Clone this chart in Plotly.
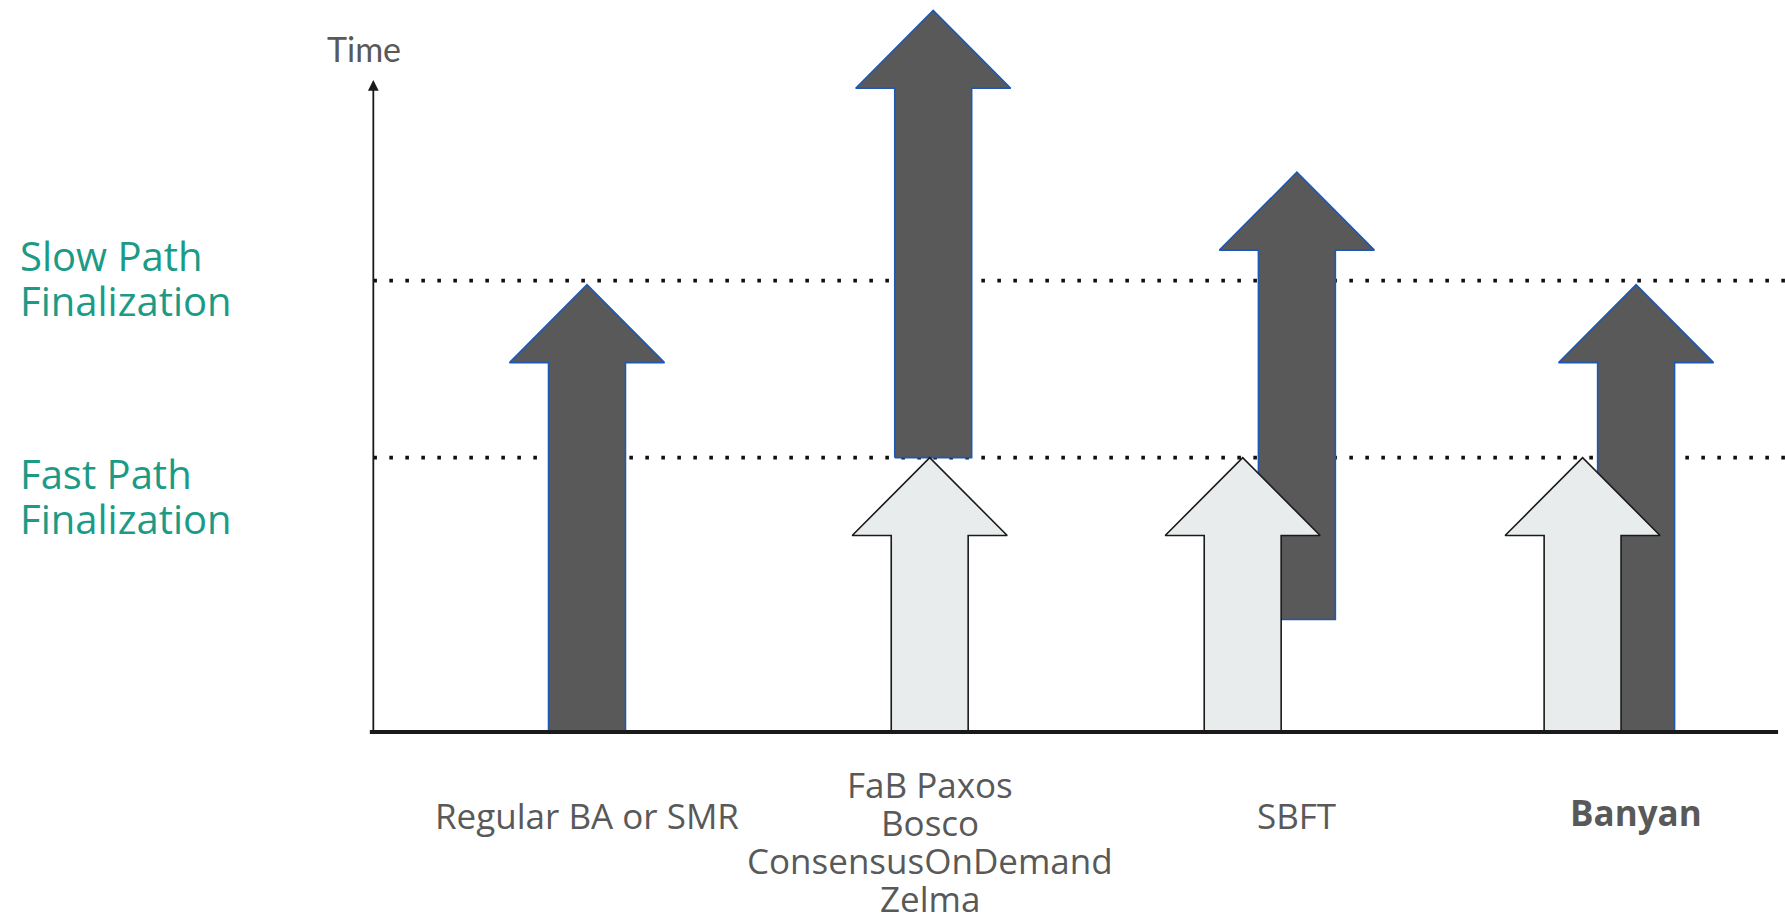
import plotly.graph_objects as go

# ---------------- data ----------------
categories = ["Regular BA or SMR", "FaB Paxos|Bosco|ConsensusOnDemand|Zelma", "SBFT", "Banyan"]
label_x = [0.0, 0.98, 2.03, 3.0]
label_y = [-0.306, -0.19, -0.306, -0.292]
label_bold = [False, False, False, True]

# slow path (dark) arrows
slow_x = [0.0, 0.99, 2.03, 3.0]
slow_start = [0.0, 1.0, 0.41, 0.0]
slow_end = [1.63, 2.63, 2.04, 1.63]

# fast path (light) arrows (none for regular BA)
fast_x = [None, 0.98, 1.875, 2.847]
fast_start = [None, 0.0, 0.0, 0.0]
fast_end = [None, 1.0, 1.0, 1.0]

fast_level = 1.0
slow_level = 1.645
level_labels = ["Slow Path|Finalization", "Fast Path|Finalization"]
level_label_y = [1.655, 0.86]

# ---------------- style ----------------
W, H = 1785, 916
X0_PX, X_UNIT = 587.0, 349.7
Y0_PX, Y_UNIT = 732.0, 274.4
xr = [(0 - X0_PX) / X_UNIT, (W - X0_PX) / X_UNIT]
yr = [-(H - Y0_PX) / Y_UNIT, Y0_PX / Y_UNIT]

SHAFT = 0.110
HEADW = 0.2216
HEADH = 0.284
DARK = "#595959"
DARK_EDGE = "#1f58b0"
LIGHT = "#e8ecec"
LIGHT_EDGE = "#1a1a1a"
TEAL = "#1b9b86"
GREY = "#595959"
FONT = "Open Sans"

axis_x = -0.611

fig = go.Figure()

# dotted reference lines
for lvl in [slow_level, fast_level]:
    fig.add_trace(go.Scatter(x=[axis_x, xr[1]], y=[lvl, lvl], mode="lines",
                             line=dict(color="#111111", width=3.6, dash="3.6px,12.4px"),
                             hoverinfo="skip", showlegend=False))


def arrow(xc, y0, y1):
    xs = [xc - SHAFT, xc - SHAFT, xc - HEADW, xc, xc + HEADW, xc + SHAFT, xc + SHAFT, xc - SHAFT]
    ys = [y0, y1 - HEADH, y1 - HEADH, y1, y1 - HEADH, y1 - HEADH, y0, y0]
    return xs, ys


for xc, a, b in zip(slow_x, slow_start, slow_end):
    xs, ys = arrow(xc, a, b)
    fig.add_trace(go.Scatter(x=xs, y=ys, mode="lines", fill="toself", fillcolor=DARK,
                             line=dict(color=DARK_EDGE, width=1.6), hoverinfo="skip",
                             showlegend=False))

for xc, a, b in zip(fast_x, fast_start, fast_end):
    if xc is None:
        continue
    xs, ys = arrow(xc, a, b)
    fig.add_trace(go.Scatter(x=xs, y=ys, mode="lines", fill="toself", fillcolor=LIGHT,
                             line=dict(color=LIGHT_EDGE, width=1.6), hoverinfo="skip",
                             showlegend=False))

# x axis line (thick)
fig.add_trace(go.Scatter(x=[-0.621, 3.406], y=[0, 0], mode="lines",
                         line=dict(color="#1a1a1a", width=4), hoverinfo="skip",
                         showlegend=False))

annotations = []
# y axis arrow
annotations.append(dict(x=axis_x, y=2.376, ax=axis_x, ay=0.0, xref="x", yref="y",
                        axref="x", ayref="y", text="", showarrow=True, arrowhead=2,
                        arrowsize=1.2, arrowwidth=1.8, arrowcolor="#1a1a1a"))
annotations.append(dict(x=-0.637, y=2.492, xref="x", yref="y", text="Time",
                        showarrow=False, font=dict(family="Lato", size=34, color=GREY),
                        xanchor="center", yanchor="middle"))

# level labels
LINE_H = 0.166
for txt, yc in zip(level_labels, level_label_y):
    lines = txt.split("|")
    n = len(lines)
    for i, ln in enumerate(lines):
        yy = yc + (n - 1) / 2 * LINE_H - i * LINE_H
        annotations.append(dict(x=-1.627, y=yy, xref="x", yref="y", text=ln,
                                showarrow=False, xanchor="left", yanchor="middle",
                                font=dict(family=FONT, size=40, color=TEAL)))

# category labels
CAT_LH = 0.1385
for cat, lx, ly, bold in zip(categories, label_x, label_y, label_bold):
    for i, ln in enumerate(cat.split("|")):
        t = f"<b>{ln}</b>" if bold else ln
        annotations.append(dict(x=lx, y=ly - i * CAT_LH, xref="x", yref="y", text=t,
                                showarrow=False, xanchor="center", yanchor="middle",
                                font=dict(family=FONT, size=35, color=GREY)))

fig.update_layout(
    width=W, height=H, margin=dict(l=0, r=0, t=0, b=0),
    paper_bgcolor="white", plot_bgcolor="white",
    xaxis=dict(range=xr, visible=False, fixedrange=True),
    yaxis=dict(range=yr, visible=False, fixedrange=True),
    annotations=annotations, showlegend=False,
)

fig.write_html("out.html")
